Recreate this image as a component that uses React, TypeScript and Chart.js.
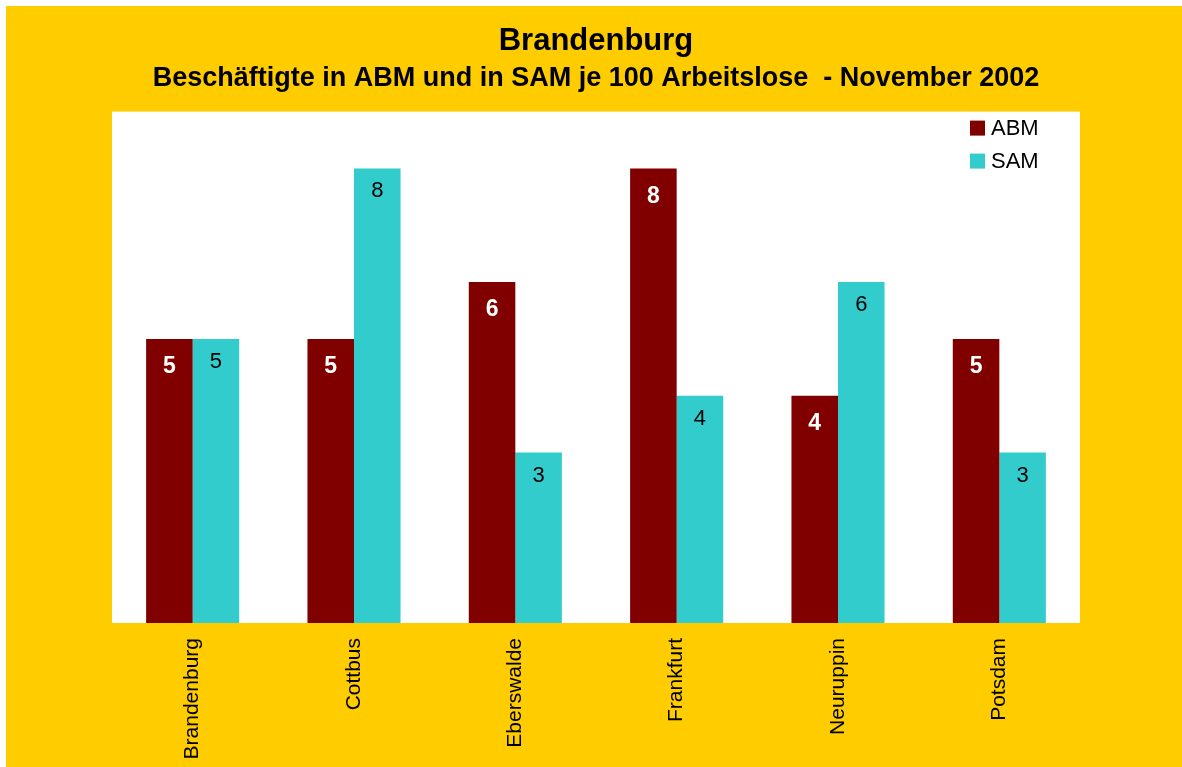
import React, { useEffect, useRef } from "react";
import { Chart, registerables } from "chart.js";

Chart.register(...registerables);

const categories = ["Brandenburg", "Cottbus", "Eberswalde", "Frankfurt", "Neuruppin", "Potsdam"];
const abmValues = [5, 5, 6, 8, 4, 5];
const samValues = [5, 8, 3, 4, 6, 3];
const seriesNames = ["ABM", "SAM"];
const seriesColors = ["#800000", "#33CCCC"];
const yMin = 0;
const yMax = 9;
const titleText = "Brandenburg";
const subtitleText = "Beschäftigte in ABM und in SAM je 100 Arbeitslose  - November 2002";

const FONT = "'Liberation Sans', Arial, Helvetica, sans-serif";

const plotBgPlugin = {
  id: "plotBg",
  beforeDraw(chart: any) {
    const { ctx, chartArea } = chart;
    ctx.save();
    ctx.fillStyle = "#FFFFFF";
    ctx.fillRect(chartArea.left, chartArea.top, chartArea.right - chartArea.left, chartArea.bottom - chartArea.top);
    ctx.restore();
  },
};

const labelsPlugin = {
  id: "barLabels",
  afterDatasetsDraw(chart: any) {
    const { ctx } = chart;
    ctx.save();
    ctx.textAlign = "center";
    ctx.textBaseline = "middle";
    chart.data.datasets.forEach((ds: any, di: number) => {
      const meta = chart.getDatasetMeta(di);
      meta.data.forEach((bar: any, i: number) => {
        const v = ds.data[i];
        if (di === 0) {
          ctx.font = `bold 23px ${FONT}`;
          ctx.fillStyle = "#FFFFFF";
          ctx.fillText(String(v), bar.x, bar.y + 28);
        } else {
          ctx.font = `22px ${FONT}`;
          ctx.fillStyle = "#000000";
          ctx.fillText(String(v), bar.x, bar.y + 23);
        }
      });
    });
    ctx.restore();
  },
};

const legendPlugin = {
  id: "innerLegend",
  afterDraw(chart: any) {
    const { ctx, chartArea } = chart;
    ctx.save();
    ctx.font = `22px ${FONT}`;
    ctx.textAlign = "left";
    ctx.textBaseline = "middle";
    seriesNames.forEach((name, i) => {
      const x = chartArea.right - 110;
      const y = chartArea.top + 9 + i * 33;
      ctx.fillStyle = seriesColors[i];
      ctx.fillRect(x, y, 15, 15);
      ctx.fillStyle = "#000000";
      ctx.fillText(name, x + 21, y + 8);
    });
    ctx.restore();
  },
};

export default function App() {
  const canvasRef = useRef<HTMLCanvasElement | null>(null);

  useEffect(() => {
    if (!canvasRef.current) return;
    const chart = new Chart(canvasRef.current, {
      type: "bar",
      data: {
        labels: categories,
        datasets: [
          {
            label: seriesNames[0],
            data: abmValues,
            backgroundColor: seriesColors[0],
            borderWidth: 0,
            barPercentage: 1,
            categoryPercentage: 0.577,
          },
          {
            label: seriesNames[1],
            data: samValues,
            backgroundColor: seriesColors[1],
            borderWidth: 0,
            barPercentage: 1,
            categoryPercentage: 0.577,
          },
        ],
      },
      options: {
        animation: false,
        responsive: true,
        maintainAspectRatio: false,
        layout: { padding: { left: 106, right: 102, top: 0, bottom: 0 } },
        plugins: {
          legend: { display: false },
          tooltip: { enabled: false },
          title: {
            display: true,
            text: titleText,
            color: "#000000",
            font: { family: FONT, size: 31, weight: "bold" },
            padding: { top: 17, bottom: 2 },
          },
          subtitle: {
            display: true,
            text: subtitleText,
            color: "#000000",
            font: { family: FONT, size: 27, weight: "bold" },
            padding: { top: 0, bottom: 17 },
          },
        },
        scales: {
          x: {
            grid: { display: false, drawTicks: false },
            border: { display: false },
            ticks: {
              color: "#000000",
              font: { family: FONT, size: 21 },
              maxRotation: 90,
              minRotation: 90,
              padding: 15,
            },
            afterFit(scale: any) {
              scale.height = 144;
            },
          },
          y: {
            display: false,
            min: yMin,
            max: yMax,
          },
        },
      },
      plugins: [plotBgPlugin, labelsPlugin, legendPlugin],
    });
    return () => chart.destroy();
  }, []);

  return (
    <div style={{ position: "fixed", left: 0, top: 0, width: 1182, height: 767, background: "#FFFFFF" }}>
      <div style={{ position: "absolute", left: 6, top: 6, width: 1176, height: 761, background: "#FFCC00" }}>
        <canvas ref={canvasRef} />
      </div>
    </div>
  );
}
